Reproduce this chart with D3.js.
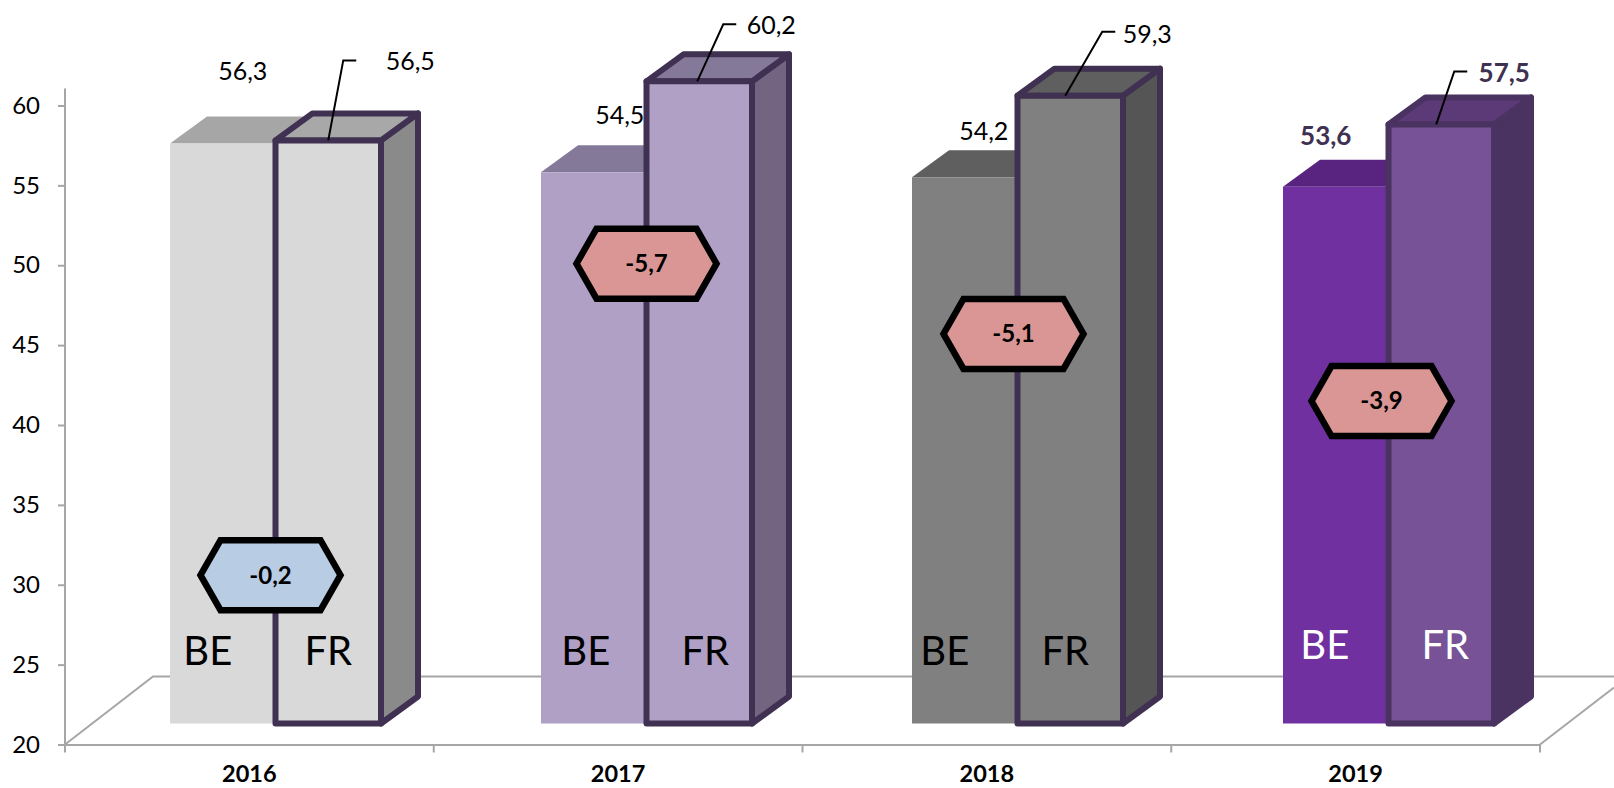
<!DOCTYPE html>
<html>
<head>
<meta charset="utf-8">
<script src="https://cdn.jsdelivr.net/npm/d3@7/dist/d3.min.js"></script>
<style>
  html, body { margin: 0; padding: 0; background: #fff; }
  svg { display: block; }
  text { font-family: Lato, "Open Sans", sans-serif; }
</style>
</head>
<body>
<svg id="chart" width="1614" height="788"></svg>
<script>
// Employment rate by language community, 2016-2019
const years = ["2016", "2017", "2018", "2019"];
const series = ["BE", "FR"];
const beValues = [56.3, 54.5, 54.2, 53.6];
const frValues = [56.5, 60.2, 59.3, 57.5];
const gaps = [-0.2, -5.7, -5.1, -3.9];
const yTicks = [20, 25, 30, 35, 40, 45, 50, 55, 60];

// Styling per year
const frontColors = {
  BE: ["#d9d9d9", "#b0a0c6", "#808080", "#7030a0"],
  FR: ["#d9d9d9", "#b0a0c6", "#808080", "#775296"]
};
const topColors = {
  BE: ["#a6a6a6", "#85799a", "#5f5f5f", "#58247f"],
  FR: ["#a8a8a8", "#85799a", "#5f5f5f", "#5c3a78"]
};
const sideColors = ["#8a8a8a", "#736482", "#555555", "#4a3360"];
const frStroke = ["#403152", "#403152", "#403152", "#4a3360"];
const codeColors = ["#000", "#000", "#000", "#fff"];
const valueColors = ["#000", "#000", "#000", "#3f3151"];
const valueWeights = [400, 400, 400, 700];
const valueSizes = [25, 25, 25, 26];

// Annotation layout, as offsets from the bar-top anchors
const beLabelOffsets = [[20, -64], [26, -48], [19, -37], [-10, -42]];
const frLabelOffsets = [[82, -70], [72, -47], [77, -53], [63, -42]];
const leaderStarts = [0, -2, -5, -5];
const leaderElbows = [[15, -80], [24, -57], [32, -64], [13, -53]];
const gapLevels = [30.6, 50.1, 45.7, 41.5];
const gapShifts = [-5, 0, -4, -7];
const codeShifts = { BE: [-15, -8, -20, -11], FR: [0, 6, -5, 4] };
const codeBaselines = [665, 665, 665, 659];

const width = 1614, height = 788;
const depthX = 37, depthY = 27;
const svg = d3.select("#chart");

// Axis plane (back of the projected box) and front plane of the columns
const yAxis = d3.scaleLinear().domain([20, 60]).range([744.5, 105.5]);
const yFront = d3.scaleLinear().domain([20, 60]).range([723.5, 84.5]);
const xAxis = d3.scaleBand().domain(years).range([65, 1540]);
const xFront = d3.scaleBand().domain(years).range([62, 1546]);
const xSeries = d3.scaleBand().domain(series).range([108, 319]);

const axisColor = "#a6a6a6";
const poly = d3.line();

// Floor of the 3D box
const floor = svg.append("g").attr("fill", "none").attr("stroke", axisColor).attr("stroke-width", 2);
const [x0, x1] = xAxis.range();
const yBase = yAxis(20);
floor.append("path").attr("d", poly([[x0, yBase], [x0 + 88, yBase - 68], [width, yBase - 68]]));
floor.append("path").attr("d", poly([[x1, yBase], [width, yBase - 57]]));

// Value axis
const yG = svg.append("g")
  .attr("transform", `translate(${x0},0)`)
  .call(d3.axisLeft(yAxis).tickValues(yTicks).tickSize(7).tickPadding(18).tickFormat(d3.format("d")));
yG.select(".domain").remove();
yG.selectAll("line").attr("stroke", axisColor).attr("stroke-width", 2);
yG.selectAll("text").attr("font-size", 24).attr("fill", "#000");
svg.append("line").attr("x1", x0).attr("x2", x0)
  .attr("y1", yBase).attr("y2", yAxis(60) - 17)
  .attr("stroke", axisColor).attr("stroke-width", 2);

// Year axis: labels centred in each band, tick marks on the band edges
const xG = svg.append("g")
  .attr("transform", `translate(0,${yBase})`)
  .call(d3.axisBottom(xAxis).tickSize(0).tickPadding(21));
xG.select(".domain").attr("stroke", axisColor).attr("stroke-width", 2);
xG.selectAll("text").attr("font-size", 23.5).attr("font-weight", 700).attr("fill", "#000");
xG.selectAll(".edge")
  .data(years.concat("end"))
  .join("line")
  .attr("class", "edge")
  .attr("x1", (d, i) => x0 + i * xAxis.step())
  .attr("x2", (d, i) => x0 + i * xAxis.step())
  .attr("y1", 0).attr("y2", 8)
  .attr("stroke", axisColor).attr("stroke-width", 2);

// One extruded column: front face, top face and right side
function column(name, value, i) {
  const left = xFront(years[i]) + xSeries(name);
  const w = xSeries.bandwidth();
  const top = yFront(value), bottom = yFront(20);
  const g = svg.append("g");
  const outlined = name === "FR";
  const stroke = outlined ? frStroke[i] : "none";
  const sw = outlined ? 6 : 0;
  const face = (pts, fill) => g.append("path")
    .attr("d", poly(pts) + "Z").attr("fill", fill)
    .attr("stroke", stroke).attr("stroke-width", sw).attr("stroke-linejoin", "round");
  if (outlined) {
    face([[left + w, top], [left + w + depthX, top - depthY], [left + w + depthX, bottom - depthY], [left + w, bottom]], sideColors[i]);
  }
  face([[left, top], [left + depthX, top - depthY], [left + w + depthX, top - depthY], [left + w, top]], topColors[name][i]);
  face([[left, top], [left + w, top], [left + w, bottom], [left, bottom]], frontColors[name][i]);
  return { cx: left + w / 2, top };
}

const beTops = beValues.map((v, i) => column("BE", v, i));
const frTops = frValues.map((v, i) => column("FR", v, i));

const comma = v => d3.format(".1f")(v).replace(".", ",").replace("−", "-");

// Series codes inside the columns
[["BE", beTops], ["FR", frTops]].forEach(([name, tops]) => {
  svg.append("g").selectAll("text").data(tops).join("text")
    .attr("x", (d, i) => d.cx + codeShifts[name][i])
    .attr("y", (d, i) => codeBaselines[i])
    .attr("text-anchor", "middle")
    .attr("font-size", 40)
    .attr("fill", (d, i) => codeColors[i])
    .text(name);
});

// Value labels
[[beValues, beTops, beLabelOffsets], [frValues, frTops, frLabelOffsets]].forEach(([vals, tops, offs]) => {
  svg.append("g").selectAll("text").data(vals).join("text")
    .attr("x", (d, i) => tops[i].cx + offs[i][0])
    .attr("y", (d, i) => tops[i].top + offs[i][1])
    .attr("text-anchor", "middle")
    .attr("font-size", (d, i) => valueSizes[i])
    .attr("font-weight", (d, i) => valueWeights[i])
    .attr("fill", (d, i) => valueColors[i])
    .text(comma);
});

// Leader lines from the FR columns to their labels
svg.append("g").selectAll("path").data(frTops).join("path")
  .attr("d", (d, i) => {
    const ex = d.cx + leaderElbows[i][0], ey = d.top + leaderElbows[i][1];
    return poly([[d.cx + leaderStarts[i], d.top], [ex, ey], [ex + 13, ey]]);
  })
  .attr("fill", "none").attr("stroke", "#000").attr("stroke-width", 2);

// Gap badges: hexagon with the BE-FR difference
const hexW = 140, hexH = 70, hexCut = 20;
const badge = svg.append("g").selectAll("g").data(gaps).join("g")
  .attr("transform", (d, i) =>
    `translate(${xFront(years[i]) + xSeries("FR") + gapShifts[i]},${yAxis(gapLevels[i])})`);
badge.append("path")
  .attr("d", poly([
    [-hexW / 2, 0], [-hexW / 2 + hexCut, -hexH / 2], [hexW / 2 - hexCut, -hexH / 2],
    [hexW / 2, 0], [hexW / 2 - hexCut, hexH / 2], [-hexW / 2 + hexCut, hexH / 2]
  ]) + "Z")
  .attr("fill", d => d > -1 ? "#b8cce4" : "#d99694")
  .attr("stroke", "#000").attr("stroke-width", 6.5).attr("stroke-linejoin", "miter");
badge.append("text")
  .attr("text-anchor", "middle").attr("dy", "0.35em")
  .attr("font-size", 24).attr("font-weight", 700).attr("fill", "#000")
  .text(comma);
</script>
</body>
</html>
